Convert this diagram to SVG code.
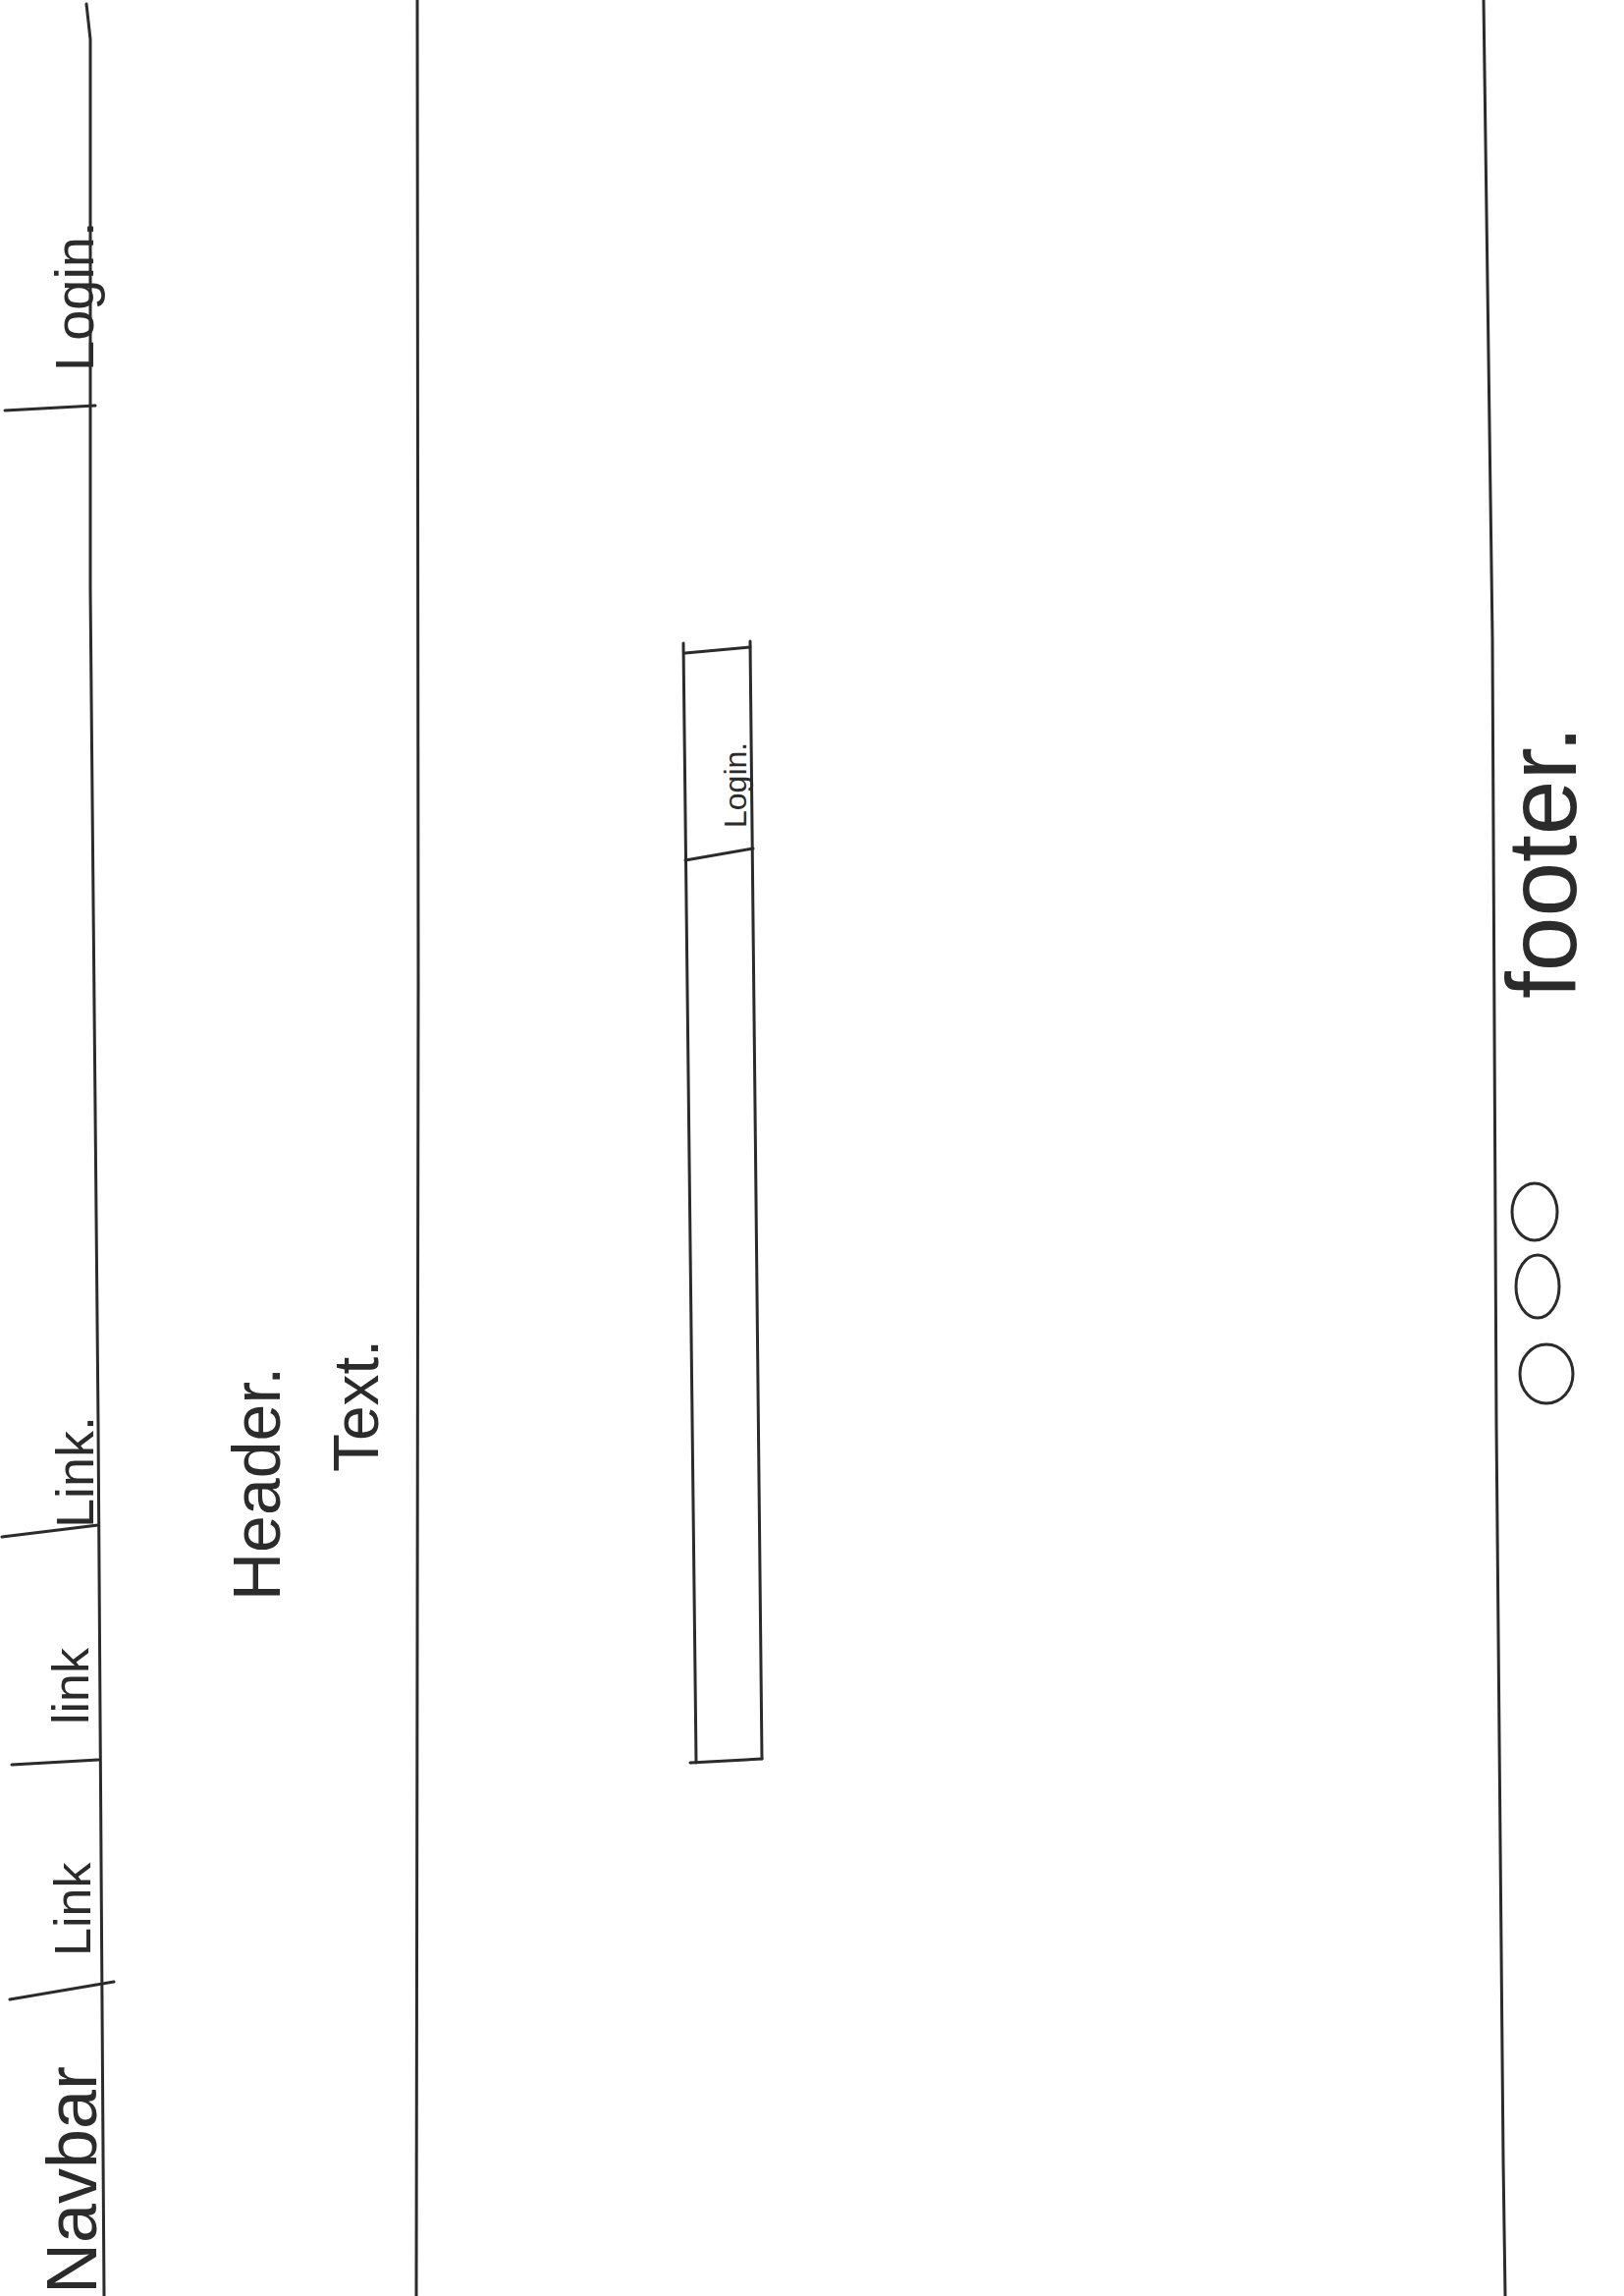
<svg xmlns="http://www.w3.org/2000/svg" width="1654" height="2338" viewBox="0 0 1654 2338">
<style>
.ln{fill:none;stroke:#2b2b2b;stroke-width:3;stroke-linecap:round;stroke-linejoin:round}
.tx{font-family:"Liberation Sans",Arial,sans-serif;fill:#2b2b2b}
</style>
<rect width="1654" height="2338" fill="#ffffff"/>
<g id="frame">
<path class="ln" d="M88,4 L92,40 L92,600 L100,1450 L106,2338"/>
<path class="ln" d="M425,0 L426,1000 L424,2338"/>
<path class="ln" d="M1511,0 L1520,650 L1524,1450 L1531,2200 L1533,2338"/>
</g>
<g id="navbar">
<path class="ln" d="M5,418 L97,413"/>
<path class="ln" d="M2,1565 L100,1553"/>
<path class="ln" d="M12,1797 L100,1792"/>
<path class="ln" d="M10,2036 L116,2018"/>
<text class="tx" font-size="56" transform="translate(95,378) rotate(-90)">Login.</text>
<text class="tx" font-size="54" transform="translate(95,1556) rotate(-90)">Link.</text>
<text class="tx" font-size="52" transform="translate(90,1756) rotate(-90)">link</text>
<text class="tx" font-size="52" transform="translate(92,1992) rotate(-90)">Link</text>
<text class="tx" font-size="72" transform="translate(98,2336) rotate(-90)">Navbar</text>
</g>
<g id="header">
<text class="tx" font-size="68" transform="translate(285,1630) rotate(-90)">Header.</text>
<text class="tx" font-size="64" transform="translate(385,1499) rotate(-90)">Text.</text>
</g>
<g id="login-box">
<path class="ln" d="M696,655 L709,1795"/>
<path class="ln" d="M764,653 L776,1791"/>
<path class="ln" d="M698,665 L764,659"/>
<path class="ln" d="M698,876 L767,864"/>
<path class="ln" d="M703,1795 L776,1791"/>
<text class="tx" font-size="32" transform="translate(760,843) rotate(-90)">Login.</text>
</g>
<g id="footer">
<text class="tx" font-size="100" transform="translate(1605,1017) rotate(-90)">footer.</text>
<ellipse class="ln" cx="1563" cy="1234" rx="23" ry="29"/>
<ellipse class="ln" cx="1566" cy="1310" rx="22" ry="32"/>
<ellipse class="ln" cx="1575" cy="1399" rx="27" ry="30"/>
</g>
<g id="connectors"></g>
</svg>
